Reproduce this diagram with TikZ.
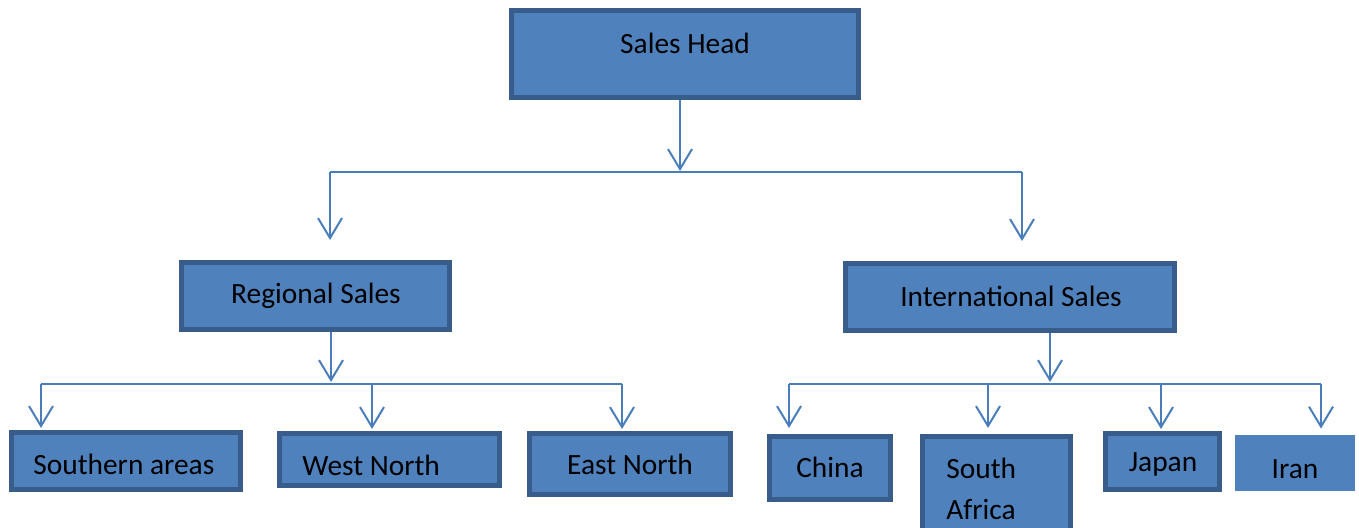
\documentclass[tikz,border=0pt]{standalone}
\usepackage{fontspec}
\setmainfont{Carlito}
\usetikzlibrary{arrows.meta,calc}
\definecolor{boxfill}{HTML}{4F81BD}
\definecolor{boxline}{HTML}{385D8A}
\definecolor{conn}{HTML}{4A7EBB}
\begin{document}
\begin{tikzpicture}[x=0.5pt,y=-0.5pt,
  box/.style={draw=boxline,fill=boxfill,line width=2.5pt,inner sep=0pt,minimum width=#1},
  plainbox/.style={fill=boxfill,inner sep=0pt,minimum width=#1},
  lbl/.style={font=\fontsize{14.7}{17}\selectfont,text=black,inner sep=0pt},
  ln/.style={draw=conn,line width=1pt},
  arr/.style={ln,-{Straight Barb[length=10pt,width=12pt,line width=1pt]}}]
\clip (0,0) rectangle (1359,528);
% boxes
\node[box=173.5pt,minimum height=43.5pt] (head) at (685,54) {};
\node[box=134pt,minimum height=33.5pt] (reg) at (315.5,296) {};
\node[box=164.5pt,minimum height=33.5pt] (intl) at (1010,297) {};
\node[box=114.5pt,minimum height=28.5pt] (south) at (126,461) {};
\node[box=110pt,minimum height=26pt] (west) at (389.5,459.5) {};
\node[box=100.5pt,minimum height=30.5pt] (east) at (630,464) {};
\node[box=60.5pt,minimum height=31.5pt] (china) at (830,468) {};
\node[box=74pt,minimum height=50.5pt] (safr) at (996.5,487) {};
\node[box=57pt,minimum height=28pt] (japan) at (1162.5,461.5) {};
\node[plainbox=60pt,minimum height=28pt] (iran) at (1295,463) {};
% labels
\node[lbl] (thead) at (685,43) {Sales Head};
\node[lbl] (treg) at (316,296) {Regional Sales};
\node[lbl] (tintl) at (1011,296) {International Sales};
\node[lbl,anchor=west] (tsouth) at (33,464) {Southern areas};
\node[lbl,anchor=west] (twest) at (302,465) {West North};
\node[lbl] (teast) at (630,464) {East North};
\node[lbl] (tchina) at (830,467) {China};
\node[lbl,anchor=west,align=left,font=\fontsize{14.7}{20.5}\selectfont] (tsafr) at (946,489) {South\\Africa};
\node[lbl] (tjapan) at (1163,464) {Japan};
\node[lbl] (tiran) at (1295,469) {Iran};
% junction coordinates
\coordinate (j0) at (680,171);
\coordinate (ja) at (330,172);
\coordinate (jb) at (1022,172);
\coordinate (j1) at (331,382);
\coordinate (k1) at (41,384);
\coordinate (k2) at (372,384);
\coordinate (k3) at (622,384);
\coordinate (j2) at (1050,382);
\coordinate (m1) at (789,384);
\coordinate (m2) at (988,384);
\coordinate (m3) at (1161,384);
\coordinate (m4) at (1321,384);
% connectors level 1
\draw[arr] (head.south -| j0) -- (j0);
\draw[ln] (ja) -- (jb);
\draw[arr,shorten >=10pt] (ja) -- (reg.north -| ja);
\draw[arr,shorten >=10pt] (jb) -- (intl.north -| jb);
% regional
\draw[arr] (reg.south -| j1) -- (j1);
\draw[ln] (k1) -- (k3);
\draw[arr,shorten >=1pt] (k1) -- (south.north -| k1);
\draw[arr,shorten >=1pt] (k2) -- (west.north -| k2);
\draw[arr,shorten >=1pt] (k3) -- (east.north -| k3);
% international
\draw[arr] (intl.south -| j2) -- (j2);
\draw[ln] (m1) -- (m4);
\draw[arr,shorten >=3pt] (m1) -- (china.north -| m1);
\draw[arr,shorten >=3pt] (m2) -- (safr.north -| m2);
\draw[arr,shorten >=1pt] (m3) -- (japan.north -| m3);
\draw[arr,shorten >=3pt] (m4) -- (iran.north -| m4);
\end{tikzpicture}
\end{document}
